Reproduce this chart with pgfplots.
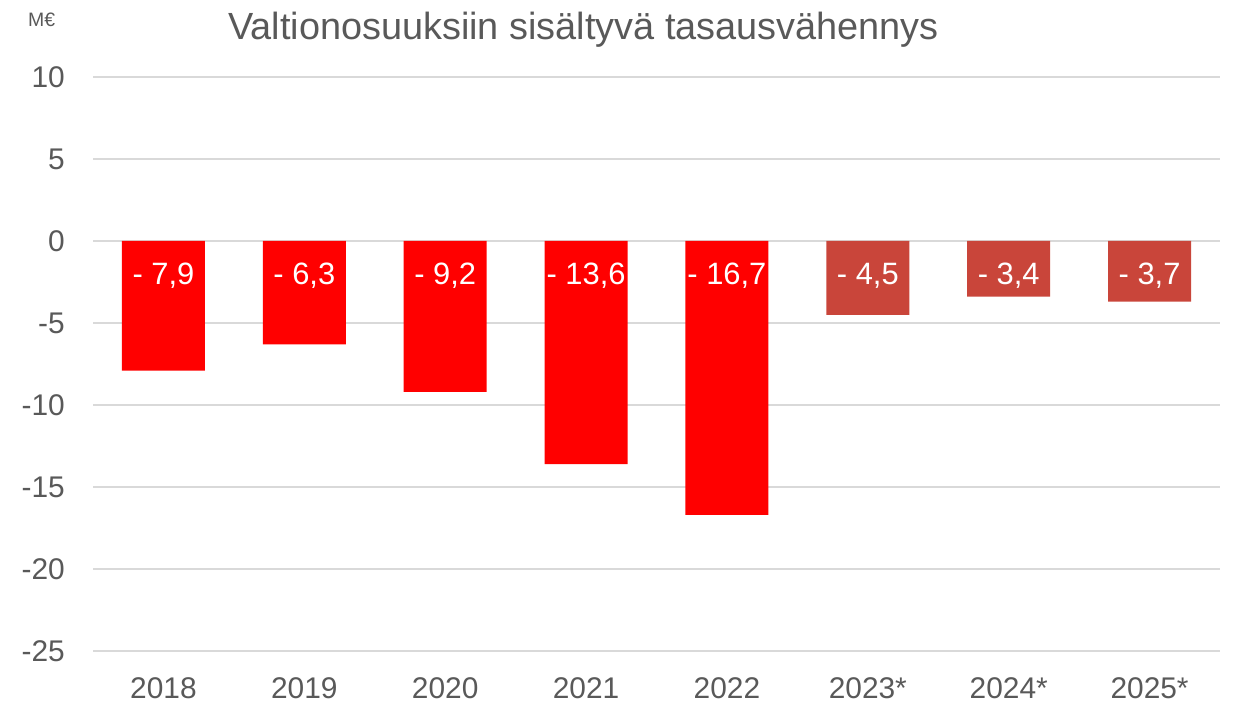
\documentclass[border=0pt]{standalone}
\usepackage{pgfplots}
\pgfplotsset{compat=1.18}
\usepackage{fontspec}
\setmainfont{Liberation Sans}
\definecolor{txt}{HTML}{595959}
\definecolor{gridc}{HTML}{D9D9D9}
\definecolor{redA}{HTML}{FF0000}
\definecolor{redB}{HTML}{C9453A}
\begin{document}
\begin{tikzpicture}[x=1bp,y=1bp]
\path[use as bounding box] (0,0) rectangle (1233,704);
\begin{axis}[
  at={(93bp,627bp)}, anchor=north west,
  scale only axis, width=1127bp, height=574bp,
  xmin=-0.5, xmax=7.5, ymin=-25, ymax=10,
  ytick={-25,-20,...,10},
  xtick={0,...,7},
  xticklabels={2018,2019,2020,2021,2022,2023*,2024*,2025*},
  axis line style={draw=none},
  ymajorgrids, grid style={gridc, line width=1.4bp},
  major tick length=0pt,
  tick label style={font=\fontsize{30}{34}\selectfont, text=txt},
  /pgf/number format/assume math mode=true,
  yticklabel style={anchor=east, inner sep=0pt, xshift=-28bp},
  xticklabel style={anchor=base, inner sep=0pt, yshift=-48bp},
  clip=false,
]
\addplot[ybar, bar shift=0pt, bar width=83bp, fill=redA, draw=none]
  coordinates {(0,-7.9) (1,-6.3) (2,-9.2) (3,-13.6) (4,-16.7)};
\addplot[ybar, bar shift=0pt, bar width=83bp, fill=redB, draw=none]
  coordinates {(5,-4.5) (6,-3.4) (7,-3.7)};
\addplot[draw=none, mark=none, nodes near coords, point meta=explicit symbolic,
  every node near coord/.style={anchor=base, yshift=-44bp, text=white, font=\fontsize{31}{34}\selectfont, inner sep=0pt}]
  table[meta=label, row sep=\\] {
  x y label \\
  0 0 {- 7,9} \\
  1 0 {- 6,3} \\
  2 0 {- 9,2} \\
  3 0 {- 13,6} \\
  4 0 {- 16,7} \\
  5 0 {- 4,5} \\
  6 0 {- 3,4} \\
  7 0 {- 3,7} \\
  };
\end{axis}
\node[anchor=base, text=txt, font=\fontsize{38}{44}\selectfont, inner sep=0pt] at (583.5,664) {Valtionosuuksiin sisältyvä tasausvähennys};
\node[anchor=base west, text=txt, font=\fontsize{19.5}{23}\selectfont, inner sep=0pt] at (28,677) {M€};
\end{tikzpicture}
\end{document}
